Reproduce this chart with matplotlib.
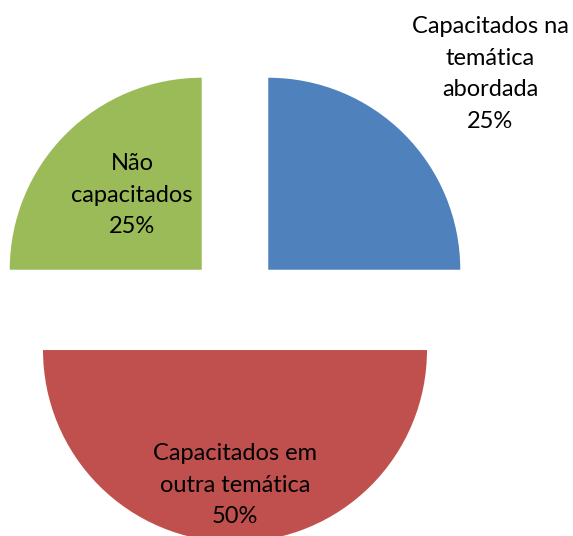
import matplotlib.pyplot as plt

# Data (clockwise from 12 o'clock)
labels = ['Capacitados na\ntemática\nabordada', 'Capacitados em\noutra temática', 'Não\ncapacitados']
shares = [25, 50, 25]
colors = ['#4F81BD', '#C0504D', '#9BBB59']

plt.rcParams['font.family'] = ['Lato', 'DejaVu Sans']

fig = plt.figure(figsize=(5.73, 5.36), dpi=100)
ax = fig.add_axes([0, 0, 1, 1])

cx, cy, r = 235, 536 - 303, 192
explode = [0.245 * r] * 3  # pie offsets are in data units
ax.pie(shares, colors=colors, explode=explode, startangle=90, counterclock=False,
       center=(cx, cy), radius=r, frame=True,
       wedgeprops=dict(linewidth=0))
ax.set_xlim(0, 573)
ax.set_ylim(0, 536)
ax.set_aspect('equal')
ax.axis('off')

# Labels
pos = [(490, 536 - 74), (235, 536 - 485), (132, 536 - 195)]
for (x, y), lab, s in zip(pos, labels, shares):
    ax.text(x, y, f'{lab}\n{s}%', ha='center', va='center',
            fontsize=17, linespacing=1.62, color='black')

fig.savefig('out.png', dpi=100)
